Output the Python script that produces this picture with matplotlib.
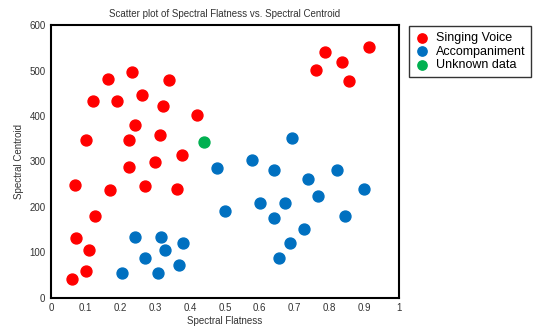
import matplotlib
matplotlib.use("Agg")
import matplotlib.pyplot as plt

plt.rcParams['font.family'] = ['Liberation Sans', 'DejaVu Sans']

# Singing voice points
voice_x = [0.060, 0.101, 0.109, 0.072, 0.126, 0.069, 0.170, 0.270, 0.362, 0.224,
           0.299, 0.376, 0.101, 0.224, 0.313, 0.241, 0.420, 0.121, 0.190, 0.322,
           0.261, 0.164, 0.233, 0.339, 0.761, 0.787, 0.836, 0.856, 0.914]
voice_y = [41, 59, 105, 132, 180, 249, 238, 246, 240, 288,
           299, 313, 346, 346, 359, 379, 401, 434, 432, 421,
           447, 482, 496, 480, 502, 540, 518, 478, 551]

# Accompaniment points
accomp_x = [0.241, 0.316, 0.379, 0.328, 0.270, 0.368, 0.204, 0.307, 0.477, 0.578,
            0.641, 0.822, 0.739, 0.899, 0.767, 0.500, 0.601, 0.672, 0.641, 0.845,
            0.727, 0.687, 0.655, 0.693]
accomp_y = [134, 134, 121, 105, 88, 72, 54, 54, 286, 302,
            282, 282, 262, 240, 224, 191, 209, 209, 176, 180,
            152, 121, 88, 352]

# Unknown sample
unknown_x = [0.440]
unknown_y = [343]

fig = plt.figure(figsize=(5.58, 3.26), dpi=100)
ax = fig.add_axes([0.0914, 0.087, 0.6236, 0.836])

ax.scatter(voice_x, voice_y, s=62, color='#FF0000', label='Singing Voice', zorder=3)
ax.scatter(accomp_x, accomp_y, s=62, color='#0070C0', label='Accompaniment', zorder=3)
ax.scatter(unknown_x, unknown_y, s=62, color='#00B050', label='Unknown data', zorder=3)

ax.set_xlim(0, 1)
ax.set_ylim(0, 600)
ax.set_xticks([0, 0.1, 0.2, 0.3, 0.4, 0.5, 0.6, 0.7, 0.8, 0.9, 1])
ax.set_xticklabels(['0', '0.1', '0.2', '0.3', '0.4', '0.5', '0.6', '0.7', '0.8', '0.9', '1'])
ax.set_yticks([0, 100, 200, 300, 400, 500, 600])
ax.tick_params(length=0, labelsize=7, colors='#333333', pad=4)

for sp in ax.spines.values():
    sp.set_linewidth(1.5)
    sp.set_color('black')

ax.set_title('Scatter plot of Spectral Flatness vs. Spectral Centroid', fontsize=7, color='#333333', pad=6)
ax.set_xlabel('Spectral Flatness', fontsize=7, color='#333333', labelpad=2)
ax.set_ylabel('Spectral Centroid', fontsize=7, color='#333333', labelpad=4)

leg = ax.legend(loc='upper left', bbox_to_anchor=(1.028, 0.995), fontsize=9,
                frameon=True, fancybox=False, edgecolor='black', handletextpad=0.4,
                borderpad=0.45, labelspacing=0.12, handlelength=1.3, markerscale=0.85,
                borderaxespad=0)
leg.get_frame().set_linewidth(1.0)

fig.savefig('out.png', dpi=100)
